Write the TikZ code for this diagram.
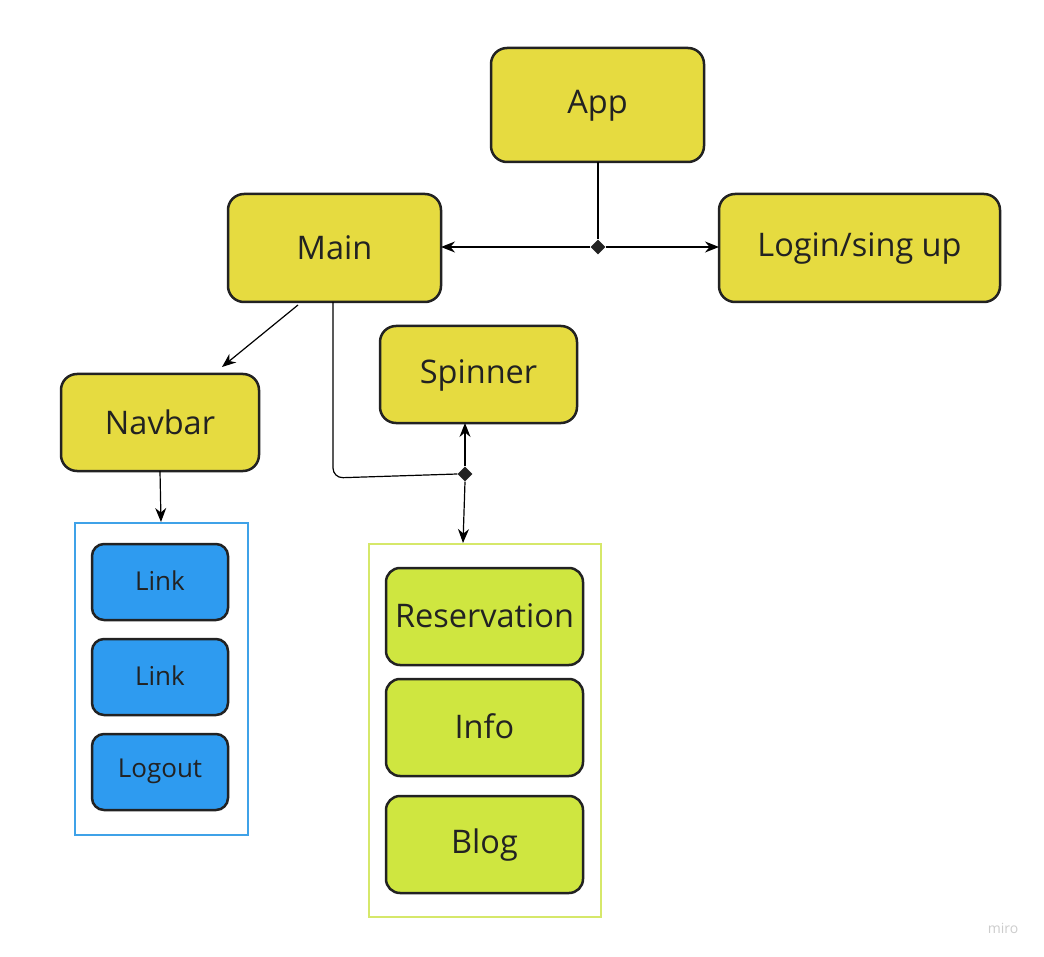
\documentclass[tikz,border=0pt]{standalone}
\usepackage{fontspec}
\setmainfont{Open Sans}
\usetikzlibrary{arrows.meta,shapes.geometric}
\definecolor{ybox}{HTML}{E6DB40}
\definecolor{bbox}{HTML}{2E9BF0}
\definecolor{gbox}{HTML}{CFE640}
\definecolor{bframe}{HTML}{3FA2E8}
\definecolor{gframe}{HTML}{D6E86A}
\definecolor{edge}{HTML}{222222}
\begin{document}
\begin{tikzpicture}[x=1pt,y=-1pt,
  box/.style={draw=edge,line width=2.5pt,rounded corners=16pt},
  ybx/.style={box,fill=ybox},
  bbx/.style={box,fill=bbox,rounded corners=12pt},
  gbx/.style={box,fill=gbox,rounded corners=14pt},
  big/.style={font=\fontsize{32.5}{38}\selectfont,text=edge,yshift=-2pt},
  small/.style={font=\fontsize{26}{31}\selectfont,text=edge,yshift=-1pt},
  conn/.style={draw=black,line width=1.2pt,-{Stealth[length=14pt,width=11pt]}},
  line/.style={draw=black,line width=1.2pt},
  dia/.style={diamond,fill=edge,inner sep=0pt,minimum size=15pt}]
\useasboundingbox (0,0) rectangle (1044,957);
% boxes
\draw[ybx] (491,48) rectangle (704,162); \node[big] (app) at (597.5,104) {App};
\coordinate (appS) at (598,162);
\draw[ybx] (228,194) rectangle (441,302); \node[big] (main) at (334.5,246) {Main};
\coordinate (mainE) at (441,247);
\draw[ybx] (719,194) rectangle (1000,302); \node[big] (login) at (859.5,246) {Login/sing up};
\coordinate (loginW) at (719,247);
\draw[ybx] (380,326) rectangle (577,423); \node[big] (spin) at (478.5,373) {Spinner};
\coordinate (spinS) at (465,423);
\draw[ybx] (61,374) rectangle (259,471); \node[big] (nav) at (160,420) {Navbar};
% blue frame
\draw[draw=bframe,line width=2.5pt] (75,523) rectangle (248,835);
\coordinate (bfN) at (161,522);
\draw[bbx] (92,544) rectangle (228,620); \node[small] (l1) at (160,580) {Link};
\draw[bbx] (92,639) rectangle (228,715); \node[small] (l2) at (160,675) {Link};
\draw[bbx] (92,734) rectangle (228,810); \node[small] (lo) at (160,770) {Logout};
% green frame
\draw[draw=gframe,line width=2.5pt] (369,544) rectangle (601,917);
\coordinate (gfN) at (463,543);
\draw[gbx] (386,568) rectangle (583,665); \node[big] (res) at (484.5,614) {Reservation};
\draw[gbx] (386,679) rectangle (583,776); \node[big] (info) at (484.5,724) {Info};
\draw[gbx] (386,796) rectangle (583,893); \node[big] (blog) at (484.5,843) {Blog};
% connectors
\node[dia] (d1) at (598,247) {};
\draw[line] (appS) -- (d1.north);
\draw[conn] (d1.west) -- (mainE);
\draw[conn] (d1.east) -- (loginW);
\coordinate (mainS1) at (298,305);
\coordinate (navN) at (222,367);
\draw[conn] (mainS1) -- (navN);
\coordinate (navS) at (160,471);
\draw[conn] (navS) -- (bfN);
\node[dia] (d2) at (465,474) {};
\coordinate (mainS2) at (333,302);
\draw[line,rounded corners=10pt] (mainS2) -- (333,478) -- (d2.west);
\draw[conn] (d2.north) -- (spinS);
\draw[conn] (d2.south) -- (gfN);
\node[text=black!20,font=\fontsize{14}{16}\selectfont] (miro) at (1003,928) {miro};
\end{tikzpicture}
\end{document}
